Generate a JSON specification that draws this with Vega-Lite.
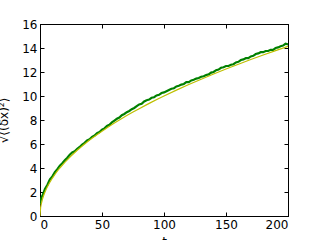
{
  "$schema": "https://vega.github.io/schema/vega-lite/v6.json",
  "width": 248,
  "height": 192,
  "autosize": {"type": "none"},
  "padding": {"left": 40, "top": 24, "right": 32, "bottom": 24},
  "background": "white",
  "config": {
    "view": {"stroke": "black", "strokeWidth": 1},
    "axis": {
      "grid": false,
      "domainColor": "black",
      "tickColor": "black",
      "tickSize": -4,
      "labelColor": "black",
      "labelFont": "DejaVu Sans",
      "labelFontSize": 12,
      "labelPadding": 7,
      "titleFont": "DejaVu Sans",
      "titleFontSize": 12,
      "titleFontWeight": "normal",
      "titleColor": "black"
    }
  },
  "datasets": {
    "sim": [
      {"t": 0, "v": 1.0}, {"t": 1, "v": 1.5}, {"t": 2, "v": 1.7}, {"t": 4, "v": 2.25}, {"t": 6, "v": 2.6},
      {"t": 8, "v": 3.05}, {"t": 10, "v": 3.3}, {"t": 12, "v": 3.65}, {"t": 14, "v": 3.9}, {"t": 16, "v": 4.2},
      {"t": 18, "v": 4.4}, {"t": 20, "v": 4.65}, {"t": 22, "v": 4.85}, {"t": 24, "v": 5.1}, {"t": 26, "v": 5.3},
      {"t": 28, "v": 5.4}, {"t": 30, "v": 5.6}, {"t": 32, "v": 5.75}, {"t": 34, "v": 5.95}, {"t": 36, "v": 6.1},
      {"t": 38, "v": 6.3}, {"t": 40, "v": 6.4}, {"t": 42, "v": 6.6}, {"t": 44, "v": 6.7}, {"t": 46, "v": 6.9},
      {"t": 48, "v": 7.0}, {"t": 50, "v": 7.2}, {"t": 52, "v": 7.3}, {"t": 54, "v": 7.5}, {"t": 56, "v": 7.6},
      {"t": 58, "v": 7.8}, {"t": 60, "v": 7.95}, {"t": 62, "v": 8.1}, {"t": 64, "v": 8.2}, {"t": 66, "v": 8.4},
      {"t": 68, "v": 8.5}, {"t": 70, "v": 8.65}, {"t": 72, "v": 8.75}, {"t": 74, "v": 8.9}, {"t": 76, "v": 9.0},
      {"t": 78, "v": 9.15}, {"t": 80, "v": 9.3}, {"t": 82, "v": 9.35}, {"t": 84, "v": 9.55}, {"t": 86, "v": 9.65},
      {"t": 88, "v": 9.7}, {"t": 90, "v": 9.85}, {"t": 92, "v": 9.9}, {"t": 94, "v": 10.05}, {"t": 96, "v": 10.1},
      {"t": 98, "v": 10.25}, {"t": 100, "v": 10.3}, {"t": 102, "v": 10.4}, {"t": 104, "v": 10.5}, {"t": 106, "v": 10.6},
      {"t": 108, "v": 10.65}, {"t": 110, "v": 10.8}, {"t": 112, "v": 10.85}, {"t": 114, "v": 10.95}, {"t": 116, "v": 11.0},
      {"t": 118, "v": 11.15}, {"t": 120, "v": 11.15}, {"t": 122, "v": 11.3}, {"t": 124, "v": 11.35}, {"t": 126, "v": 11.45},
      {"t": 128, "v": 11.5}, {"t": 130, "v": 11.6}, {"t": 132, "v": 11.65}, {"t": 134, "v": 11.75}, {"t": 136, "v": 11.8},
      {"t": 138, "v": 11.95}, {"t": 140, "v": 12.0}, {"t": 142, "v": 12.15}, {"t": 144, "v": 12.2}, {"t": 146, "v": 12.35},
      {"t": 148, "v": 12.4}, {"t": 150, "v": 12.5}, {"t": 152, "v": 12.5}, {"t": 154, "v": 12.6}, {"t": 156, "v": 12.65},
      {"t": 158, "v": 12.8}, {"t": 160, "v": 12.85}, {"t": 162, "v": 13.0}, {"t": 164, "v": 13.05}, {"t": 166, "v": 13.15},
      {"t": 168, "v": 13.15}, {"t": 170, "v": 13.3}, {"t": 172, "v": 13.35}, {"t": 174, "v": 13.5}, {"t": 176, "v": 13.55},
      {"t": 178, "v": 13.65}, {"t": 180, "v": 13.65}, {"t": 182, "v": 13.75}, {"t": 184, "v": 13.75}, {"t": 186, "v": 13.85},
      {"t": 188, "v": 13.85}, {"t": 190, "v": 14.0}, {"t": 192, "v": 14.05}, {"t": 194, "v": 14.15}, {"t": 196, "v": 14.2},
      {"t": 198, "v": 14.35}, {"t": 200, "v": 14.3}
    ],
    "theory": [
      {"t": 0, "v": 0}, {"t": 0.5, "v": 0.707}, {"t": 1, "v": 1}, {"t": 2, "v": 1.414}, {"t": 3, "v": 1.732},
      {"t": 4, "v": 2}, {"t": 6, "v": 2.449}, {"t": 8, "v": 2.828}, {"t": 10, "v": 3.162}, {"t": 13, "v": 3.606},
      {"t": 16, "v": 4}, {"t": 20, "v": 4.472}, {"t": 25, "v": 5}, {"t": 30, "v": 5.477}, {"t": 35, "v": 5.916},
      {"t": 40, "v": 6.325}, {"t": 45, "v": 6.708}, {"t": 50, "v": 7.071}, {"t": 55, "v": 7.416}, {"t": 60, "v": 7.746},
      {"t": 65, "v": 8.062}, {"t": 70, "v": 8.367}, {"t": 75, "v": 8.660}, {"t": 80, "v": 8.944}, {"t": 85, "v": 9.220},
      {"t": 90, "v": 9.487}, {"t": 95, "v": 9.747}, {"t": 100, "v": 10}, {"t": 110, "v": 10.488}, {"t": 120, "v": 10.954},
      {"t": 130, "v": 11.402}, {"t": 140, "v": 11.832}, {"t": 150, "v": 12.247}, {"t": 160, "v": 12.649}, {"t": 170, "v": 13.038},
      {"t": 180, "v": 13.416}, {"t": 190, "v": 13.784}, {"t": 200, "v": 14.142}
    ]
  },
  "layer": [
    {
      "data": {"name": "sim"},
      "mark": {"type": "line", "color": "#008000", "strokeWidth": 2.2, "clip": true},
      "encoding": {
        "x": {"field": "t", "type": "quantitative", "scale": {"domain": [0, 200], "nice": false},
              "axis": {"orient": "bottom", "values": [0, 50, 100, 150, 200], "title": "t", "titlePadding": 6}},
        "y": {"field": "v", "type": "quantitative", "scale": {"domain": [0, 16], "nice": false, "zero": false},
              "axis": {"orient": "left", "values": [0, 2, 4, 6, 8, 10, 12, 14, 16], "title": "√⟨(δx)²⟩", "titlePadding": 11}}
      }
    },
    {
      "data": {"name": "theory"},
      "mark": {"type": "line", "color": "#bfbf00", "strokeWidth": 1.2, "clip": true},
      "encoding": {
        "x": {"field": "t", "type": "quantitative",
              "axis": {"orient": "top", "values": [0, 50, 100, 150, 200], "labels": false, "title": null}},
        "y": {"field": "v", "type": "quantitative",
              "axis": {"orient": "right", "values": [0, 2, 4, 6, 8, 10, 12, 14, 16], "labels": false, "title": null}}
      }
    }
  ],
  "resolve": {"axis": {"x": "independent", "y": "independent"}}
}
